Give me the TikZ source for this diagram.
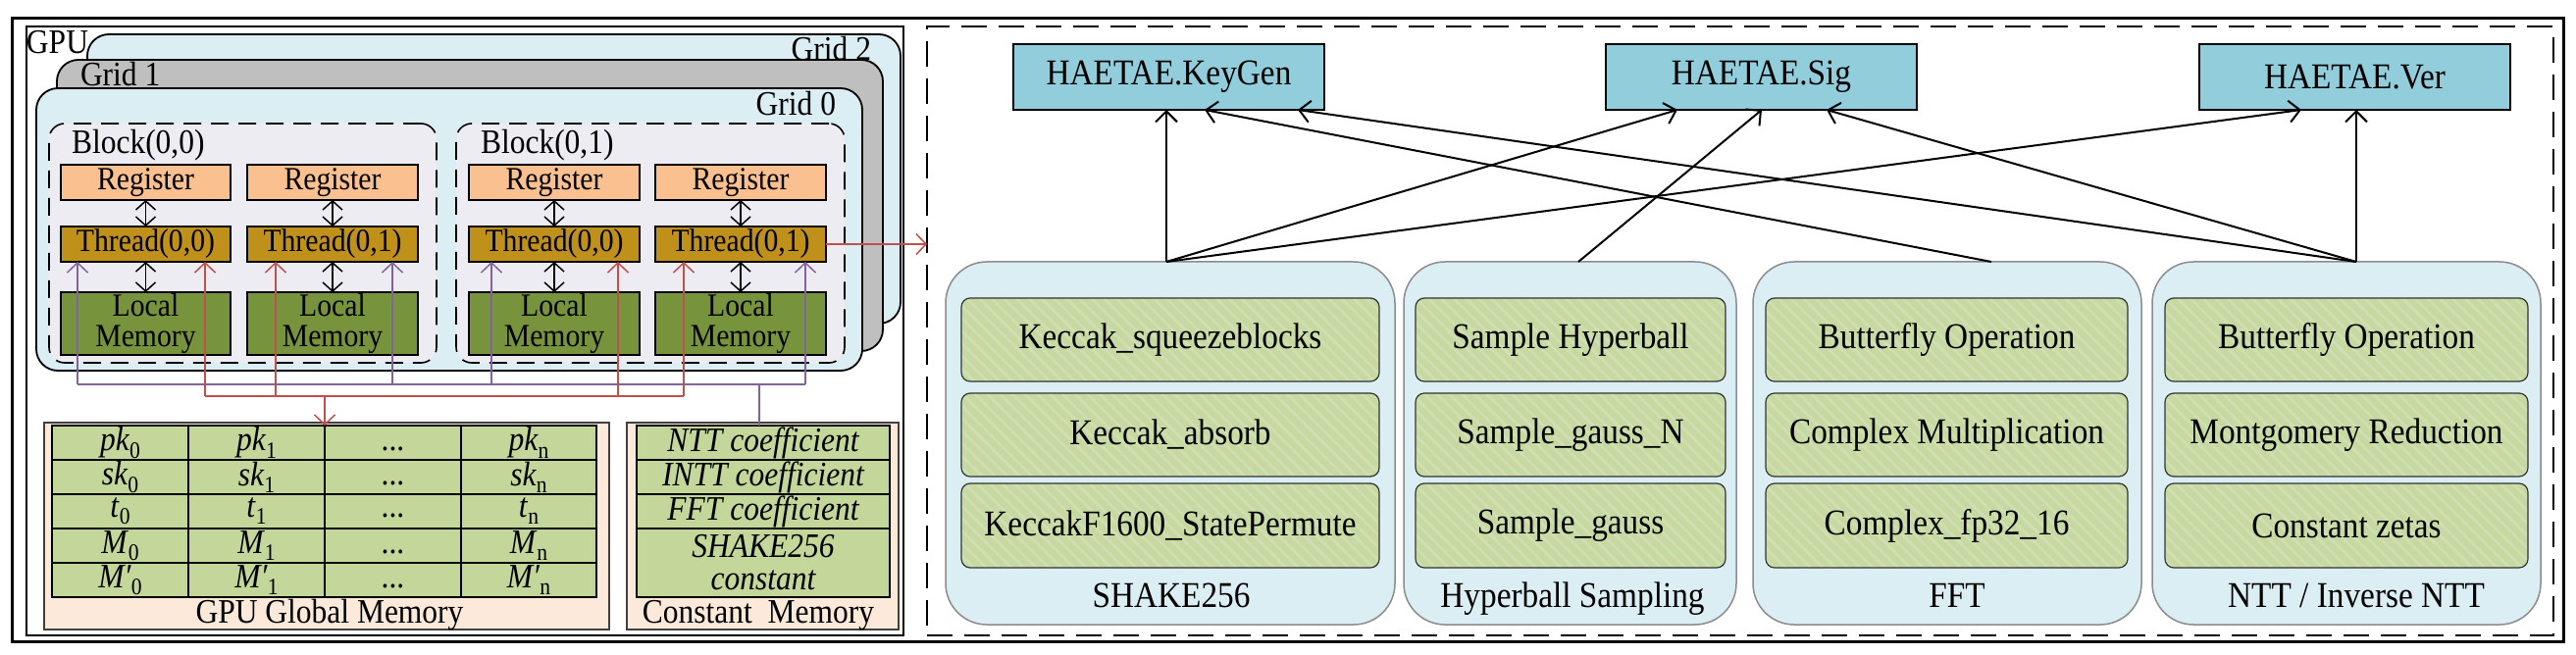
\documentclass[tikz,border=0pt]{standalone}
\usepackage{fontspec}
\setmainfont{Liberation Serif}[FakeStretch=0.9]
\usetikzlibrary{arrows.meta,patterns.meta,calc}
\definecolor{gridblue}{HTML}{DAEEF3}
\definecolor{gridgray}{HTML}{BFBFBF}
\definecolor{blockc}{HTML}{EEECF3}
\definecolor{regc}{HTML}{FAC090}
\definecolor{thrc}{HTML}{C0911A}
\definecolor{locc}{HTML}{77933C}
\definecolor{tabc}{HTML}{C4D79B}
\definecolor{pinkc}{HTML}{FDE9D9}
\definecolor{haec}{HTML}{92CDDC}
\definecolor{modc}{HTML}{DAEEF3}
\definecolor{innc}{HTML}{C6D9A0}
\definecolor{hatchc}{HTML}{D0DFB2}
\definecolor{purpc}{HTML}{8064A2}
\definecolor{redc}{HTML}{C0504D}
\newcommand\fsL{\fontsize{35}{37}\selectfont}
\newcommand\fsR{\fontsize{33}{31}\selectfont}
\newcommand\fsT{\fontsize{35}{33}\selectfont}
\newcommand\fsH{\fontsize{37}{38}\selectfont}
\newcommand\mysub[1]{\raisebox{-0.45ex}{\fontsize{24}{24}\selectfont #1}}
\newcommand\mybox[7]{\node[base,#1,minimum width={#5pt-#3pt},minimum height={#6pt-#4pt}] (#2) at (#3,#4) {#7};}
\begin{document}
\begin{tikzpicture}[x=1pt,y=-1pt,
  base/.style={inner sep=0pt,outer sep=0pt,anchor=north west,align=center},
  frame/.style={draw=black},
  grid/.style={draw=black,line width=1.8pt,rounded corners=22pt},
  blk/.style={draw=black,fill=blockc,line width=1.6pt,dash pattern=on 18pt off 10pt,rounded corners=16pt},
  reg/.style={draw=black,fill=regc,line width=1.5pt,font=\fsR},
  thr/.style={draw=black,fill=thrc,line width=1.5pt,font=\fsR},
  loc/.style={draw=black,fill=locc,line width=1.5pt,font=\fsR},
  txt/.style={inner sep=0pt,outer sep=0pt,font=\fsL},
  cell/.style={draw=black,fill=tabc,line width=1.5pt,font=\fsT},
  pinkbox/.style={draw=black!75,fill=pinkc,line width=1.3pt},
  hae/.style={draw=black,fill=haec,line width=1.6pt,font=\fsH},
  modbox/.style={draw=black!45,fill=modc,line width=1.5pt,rounded corners=42pt},
  inner/.style={draw=black!80,line width=1.2pt,rounded corners=9pt,font=\fsH,
     preaction={fill=innc},
     preaction={pattern={Lines[angle=-45,distance=9pt,line width=3pt]},pattern color=hatchc}},
  dbl/.style={{Straight Barb[length=9pt,width=20pt]}-{Straight Barb[length=9pt,width=20pt]},line width=1.5pt},
  pline/.style={draw=purpc,line width=1.5pt},
  rline/.style={draw=redc,line width=1.5pt},
  parr/.style={pline,-{Straight Barb[length=10pt,width=21pt]}},
  rarr/.style={rline,-{Straight Barb[length=10pt,width=21pt]}},
  harr/.style={line width=2pt,-{Straight Barb[length=11pt,width=22pt]}}]
\useasboundingbox (0,0) rectangle (2626,668);
% frames
\mybox{frame,line width=3pt}{outer}{12}{19}{2613}{654}{}
\mybox{frame,line width=1.5pt}{gpu}{27}{27}{921}{648}{}
\mybox{frame,line width=1.6pt,dash pattern=on 26pt off 12pt}{acc}{945}{27}{2603}{648}{}
% grids
\mybox{grid,fill=gridblue}{g2}{89}{35}{918}{330}{}
\node[txt,anchor=base west] (gpulbl) at (27,55) {GPU};
\node[txt,anchor=base east] (g2lbl) at (888,62) {Grid 2};
\mybox{grid,fill=gridgray}{g1}{58}{61}{900}{358}{}
\node[txt,anchor=base west] (g1lbl) at (82,88) {Grid 1};
\mybox{grid,fill=gridblue}{g0}{37}{90}{879}{378}{}
\node[txt,anchor=base east] (g0lbl) at (852,118) {Grid 0};
% blocks
\mybox{blk}{b0}{50}{126}{445}{370}{}
\node[txt,anchor=base west] (b0lbl) at (73,157) {Block(0,0)};
\mybox{blk}{b1}{465}{126}{861}{370}{}
\node[txt,anchor=base west] (b1lbl) at (490,157) {Block(0,1)};
\foreach \i/\j/\xa/\xb in {1/0/62/235,2/1/252/426,3/0/478/652,4/1/668/842}{
  \mybox{reg}{r\i}{\xa}{168}{\xb}{204}{Register}
  \mybox{thr}{t\i}{\xa}{231}{\xb}{267}{Thread(0,\j)}
  \mybox{loc}{l\i}{\xa}{298}{\xb}{362}{Local\\Memory}
  \draw[dbl] (r\i.south) -- (t\i.north);
  \draw[dbl] (t\i.south) -- (l\i.north);
}
% global memory
\mybox{pinkbox}{gm}{45}{431}{621}{642}{}
\node[txt,anchor=base] (gmlbl) at (336,635) {GPU Global Memory};
\foreach \v [count=\r] in {pk,sk,t,M,M′}{
  \pgfmathsetmacro\ya{434+(\r-1)*35}
  \pgfmathsetmacro\yb{434+\r*35}
  \mybox{cell}{gm\r1}{53}{\ya}{192}{\yb}{\textit{\v}\mysub{0}}
  \mybox{cell}{gm\r2}{192}{\ya}{331}{\yb}{\textit{\v}\mysub{1}}
  \mybox{cell}{gm\r3}{331}{\ya}{470}{\yb}{\vphantom{\textit{\v}\mysub{0}}...}
  \mybox{cell}{gm\r4}{470}{\ya}{608}{\yb}{\textit{\v}\mysub{n}}
}
% constant memory
\mybox{pinkbox}{cm}{639}{431}{916}{642}{}
\node[txt,anchor=base] (cmlbl) at (773,635) {Constant\ \ Memory};
\mybox{cell}{cm1}{649}{434}{907}{469}{\itshape NTT coefficient}
\mybox{cell}{cm2}{649}{469}{907}{504}{\itshape INTT coefficient}
\mybox{cell}{cm3}{649}{504}{907}{539}{\itshape FFT coefficient}
\mybox{cell}{cm4}{649}{539}{907}{609}{\itshape SHAKE256\\\itshape constant}
% buses
\coordinate (pbus) at (0,392);
\coordinate (rbus) at (0,404);
\draw[pline] ([xshift=17pt]t1.south west |- pbus) -- ([xshift=-21pt]t4.south east |- pbus);
\draw[pline] ([xshift=-4pt]cm1.north) -- ([xshift=-4pt]cm1.north |- pbus);
\draw[parr] ([xshift=17pt]t1.south west |- pbus) -- ([xshift=17pt]t1.south west);
\draw[parr] ([xshift=-26pt]t2.south east |- pbus) -- ([xshift=-26pt]t2.south east);
\draw[parr] ([xshift=23pt]t3.south west |- pbus) -- ([xshift=23pt]t3.south west);
\draw[parr] ([xshift=-21pt]t4.south east |- pbus) -- ([xshift=-21pt]t4.south east);
\draw[rline] ([xshift=-26pt]t1.south east |- rbus) -- ([xshift=29pt]t4.south west |- rbus);
\draw[rarr] ([xshift=-26pt]t1.south east |- rbus) -- ([xshift=-26pt]t1.south east);
\draw[rarr] ([xshift=29pt]t2.south west |- rbus) -- ([xshift=29pt]t2.south west);
\draw[rarr] ([xshift=-22pt]t3.south east |- rbus) -- ([xshift=-22pt]t3.south east);
\draw[rarr] ([xshift=29pt]t4.south west |- rbus) -- ([xshift=29pt]t4.south west);
\draw[rarr] (gm13.north west |- rbus) -- (gm13.north west);
\draw[rarr] (t4.east) -- (t4.east -| acc.west);
% HAETAE
\mybox{hae}{keygen}{1033}{45}{1350}{112}{HAETAE.KeyGen}
\mybox{hae}{sig}{1637}{45}{1954}{112}{HAETAE.Sig}
\mybox{hae}{ver}{2242}{45}{2559}{112}{HAETAE.Ver}
% modules
\mybox{modbox}{shake}{964}{267}{1422}{637}{}
\mybox{modbox}{hyper}{1431}{267}{1770}{637}{}
\mybox{modbox}{fft}{1787}{267}{2183}{637}{}
\mybox{modbox}{ntt}{2194}{267}{2590}{637}{}
\node[txt,font=\fsH,anchor=base] (shakelbl) at (1194,619) {SHAKE256};
\node[txt,font=\fsH,anchor=base] (hyperlbl) at (1603,619) {Hyperball Sampling};
\node[txt,font=\fsH,anchor=base] (fftlbl) at (1995,619) {FFT};
\node[txt,font=\fsH,anchor=base] (nttlbl) at (2402,619) {NTT / Inverse NTT};
\mybox{inner}{s1}{980}{304}{1406}{389}{Keccak\_squeezeblocks}
\mybox{inner}{s2}{980}{401}{1406}{486}{Keccak\_absorb}
\mybox{inner}{s3}{980}{493}{1406}{579}{KeccakF1600\_StatePermute}
\mybox{inner}{h1}{1443}{304}{1759}{389}{Sample Hyperball}
\mybox{inner}{h2}{1443}{401}{1759}{486}{Sample\_gauss\_N}
\mybox{inner}{h3}{1443}{493}{1759}{579}{Sample\_gauss}
\mybox{inner}{f1}{1800}{304}{2169}{389}{Butterfly Operation}
\mybox{inner}{f2}{1800}{401}{2169}{486}{Complex Multiplication}
\mybox{inner}{f3}{1800}{493}{2169}{579}{Complex\_fp32\_16}
\mybox{inner}{n1}{2207}{304}{2577}{389}{Butterfly Operation}
\mybox{inner}{n2}{2207}{401}{2577}{486}{Montgomery Reduction}
\mybox{inner}{n3}{2207}{493}{2577}{579}{Constant zetas}
% connectors
\draw[harr] ([xshift=225pt]shake.north west) -- ([xshift=156pt]keygen.south west);
\draw[harr] ([xshift=225pt]shake.north west) -- ([xshift=73pt]sig.south west);
\draw[harr] ([xshift=225pt]shake.north west) -- ([xshift=104pt]ver.south west);
\draw[harr] ([xshift=178pt]hyper.north west) -- ([xshift=159pt]sig.south west);
\draw[harr] ([xshift=243pt]fft.north west) -- ([xshift=195pt]keygen.south west);
\draw[harr] ([xshift=208pt]ntt.north west) -- ([xshift=290pt]keygen.south west);
\draw[harr] ([xshift=208pt]ntt.north west) -- ([xshift=225pt]sig.south west);
\draw[harr] ([xshift=208pt]ntt.north west) -- ([xshift=160pt]ver.south west);
\end{tikzpicture}
\end{document}
